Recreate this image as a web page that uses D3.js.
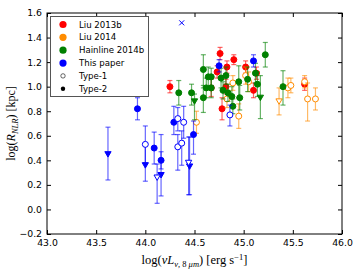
<!DOCTYPE html>
<html>
<head>
<meta charset="utf-8">
<script src="https://cdn.jsdelivr.net/npm/d3@7"></script>
<style>
body { margin: 0; background: #fff; }
text { font-family: "DejaVu Sans", sans-serif; }
.lab { font-family: "Liberation Serif", "DejaVu Serif", serif; }
</style>
</head>
<body>
<div id="chart"></div>
<script>
// rows: [log L8um, log R_NLR, err minus, err plus, type (1/2), marker]
const liu2013b = [
  [44.25, 1.00, 0.05, 0.05, 2, "o"],
  [44.76, 1.27, 0.05, 0.05, 2, "o"],
  [44.73, 1.12, 0.05, 0.05, 2, "o"],
  [44.83, 1.16, 0.05, 0.05, 2, "o"],
  [44.90, 1.22, 0.04, 0.04, 2, "o"],
  [45.02, 1.16, 0.05, 0.05, 2, "o"],
  [45.13, 1.11, 0.05, 0.05, 2, "o"],
  [44.82, 1.00, 0.06, 0.06, 2, "o"],
  [44.67, 0.99, 0.07, 0.07, 2, "o"],
  [44.78, 0.82, 0.09, 0.09, 2, "o"],
  [45.10, 0.97, 0.06, 0.06, 2, "o"],
  [45.62, 1.02, 0.05, 0.05, 2, "o"]
];
const liu2014 = [
  [44.52, 0.71, 0.09, 0.09, 1, "o"],
  [44.95, 0.76, 0.10, 0.10, 1, "o"],
  [44.83, 0.90, 0.07, 0.07, 1, "o"],
  [44.89, 1.03, 0.06, 0.06, 1, "o"],
  [45.02, 1.09, 0.07, 0.07, 1, "o"],
  [45.05, 1.04, 0.08, 0.08, 1, "o"],
  [45.36, 0.89, 0.12, 0.10, 1, "v"],
  [45.45, 0.99, 0.08, 0.08, 1, "o"],
  [45.48, 1.01, 0.06, 0.06, 1, "o"],
  [45.62, 1.04, 0.05, 0.05, 1, "o"],
  [45.65, 0.90, 0.18, 0.13, 1, "o"],
  [45.73, 0.90, 0.09, 0.09, 1, "o"]
];
const hainline2014b = [
  [44.34, 0.95, 0.10, 0.10, 2, "o"],
  [44.47, 0.95, 0.10, 0.07, 2, "o"],
  [44.50, 0.89, 0.16, 0.05, 2, "v"],
  [44.59, 1.14, 0.15, 0.12, 2, "o"],
  [44.59, 0.91, 0.12, 0.10, 2, "o"],
  [44.62, 0.99, 0.08, 0.08, 2, "o"],
  [44.67, 0.99, 0.08, 0.08, 2, "o"],
  [44.64, 1.08, 0.08, 0.08, 2, "o"],
  [44.67, 1.08, 0.07, 0.07, 2, "o"],
  [44.77, 1.07, 0.08, 0.08, 2, "o"],
  [44.82, 1.09, 0.07, 0.07, 2, "o"],
  [44.79, 0.97, 0.07, 0.07, 2, "o"],
  [44.84, 0.95, 0.07, 0.07, 2, "o"],
  [44.88, 0.92, 0.08, 0.08, 2, "o"],
  [44.89, 0.84, 0.06, 0.06, 2, "o"],
  [44.96, 0.91, 0.10, 0.10, 2, "o"],
  [44.95, 1.04, 0.13, 0.13, 2, "o"],
  [45.04, 1.06, 0.10, 0.10, 2, "o"],
  [45.12, 1.11, 0.08, 0.08, 2, "o"],
  [45.14, 1.02, 0.10, 0.10, 2, "o"],
  [45.17, 0.92, 0.18, 0.17, 2, "v"],
  [45.22, 1.26, 0.10, 0.10, 2, "o"],
  [45.40, 1.00, 0.15, 0.13, 2, "o"]
];
const thisPaper = [
  [43.92, 0.82, 0.09, 0.09, 2, "o"],
  [44.09, 0.50, 0.13, 0.13, 2, "o"],
  [44.16, 0.40, 0.07, 0.07, 2, "o"],
  [44.29, 0.71, 0.10, 0.13, 2, "o"],
  [44.49, 0.61, 0.16, 0.11, 2, "o"],
  [44.75, 1.17, 0.05, 0.05, 2, "o"],
  [45.10, 1.21, 0.05, 0.05, 2, "o"],
  [43.62, 0.46, 0.22, 0.21, 2, "v"],
  [44.00, 0.37, 0.14, 0.16, 2, "v"],
  [44.16, 0.29, 0.18, 0.32, 2, "v"],
  [44.45, 0.36, 0.24, 0.23, 2, "v"],
  [44.00, 0.53, 0.15, 0.15, 1, "o"],
  [44.33, 0.74, 0.10, 0.09, 1, "o"],
  [44.39, 0.71, 0.13, 0.13, 1, "o"],
  [44.33, 0.51, 0.19, 0.10, 1, "o"],
  [44.37, 0.54, 0.18, 0.10, 1, "o"],
  [44.86, 0.77, 0.09, 0.08, 1, "o"],
  [44.12, 0.27, 0.22, 0.10, 1, "v"],
  [44.44, 0.39, 0.27, 0.20, 1, "v"],
  [44.37, 1.52, 0, 0, 2, "x"]
];

const seriesNames = ["Liu 2013b", "Liu 2014", "Hainline 2014b", "This paper"];
const seriesColors = ["#ff0000", "#ff8c00", "#008000", "#0000ff"];
const seriesData = [liu2013b, liu2014, hainline2014b, thisPaper];
const xTicks = [43.0, 43.5, 44.0, 44.5, 45.0, 45.5, 46.0];
const yTicks = [-0.2, 0.0, 0.2, 0.4, 0.6, 0.8, 1.0, 1.2, 1.4, 1.6];

const W = 360, H = 270;
const m = {left: 47, top: 13, right: 18, bottom: 36};

const svg = d3.select("#chart").append("svg")
  .attr("width", W).attr("height", H);

const x = d3.scaleLinear().domain([43, 46]).range([m.left, W - m.right]);
const y = d3.scaleLinear().domain([-0.2, 1.6]).range([H - m.bottom, m.top]);

// axes, ticks inside on all four sides
const tl = 4;
svg.append("g").attr("transform", "translate(0," + (H - m.bottom) + ")")
  .call(d3.axisBottom(x).tickValues(xTicks).tickFormat(d3.format(".1f")).tickSizeInner(-tl).tickSizeOuter(0).tickPadding(5));
svg.append("g").attr("transform", "translate(0," + m.top + ")")
  .call(d3.axisTop(x).tickValues(xTicks).tickFormat("").tickSizeInner(-tl).tickSizeOuter(0));
svg.append("g").attr("transform", "translate(" + m.left + ",0)")
  .call(d3.axisLeft(y).tickValues(yTicks).tickFormat(d => d3.format(".1f")(d).replace("-", "\u2212")).tickSizeInner(-tl).tickSizeOuter(0).tickPadding(5));
svg.append("g").attr("transform", "translate(" + (W - m.right) + ",0)")
  .call(d3.axisRight(y).tickValues(yTicks).tickFormat("").tickSizeInner(-tl).tickSizeOuter(0));

svg.selectAll(".domain").remove();
svg.selectAll(".tick text").attr("font-size", 9.3).attr("fill", "#000");
svg.selectAll(".tick line").attr("stroke", "#000");

svg.append("rect")
  .attr("x", m.left).attr("y", m.top)
  .attr("width", W - m.left - m.right).attr("height", H - m.top - m.bottom)
  .attr("fill", "none").attr("stroke", "#000").attr("stroke-width", 1);

// points
const tri = d3.symbol().type(d3.symbolTriangle).size(17);
const plot = svg.append("g");
seriesData.forEach((rows, si) => {
  const c = seriesColors[si];
  const g = plot.append("g");
  rows.forEach(r => {
    const px = x(r[0]), py = y(r[1]);
    if (r[2] + r[3] > 0) {
      const y0 = y(r[1] - r[2]), y1 = y(r[1] + r[3]);
      const eb = g.append("g").attr("stroke", c).attr("stroke-opacity", 0.6).attr("stroke-width", 1.2);
      eb.append("line").attr("x1", px).attr("x2", px).attr("y1", y0).attr("y2", y1);
      eb.append("line").attr("x1", px - 2.5).attr("x2", px + 2.5).attr("y1", y0).attr("y2", y0);
      eb.append("line").attr("x1", px - 2.5).attr("x2", px + 2.5).attr("y1", y1).attr("y2", y1);
    }
    const fill = r[4] == 1 ? "#fff" : c;
    if (r[5] == "o") {
      g.append("circle").attr("cx", px).attr("cy", py).attr("r", 3)
        .attr("fill", fill).attr("stroke", c).attr("stroke-width", 1);
    } else if (r[5] == "v") {
      g.append("path").attr("d", tri)
        .attr("transform", "translate(" + px + "," + (py + 0.5) + ") rotate(180)")
        .attr("fill", fill).attr("stroke", c).attr("stroke-width", 1);
    } else {
      g.append("path").attr("d", "M-2.5,-2.5L2.5,2.5M-2.5,2.5L2.5,-2.5")
        .attr("transform", "translate(" + px + "," + py + ")")
        .attr("fill", "none").attr("stroke", c).attr("stroke-width", 1);
    }
  });
});

// legend
const leg = svg.append("g");
leg.append("rect").attr("x", 50.5).attr("y", 16.5).attr("width", 98).attr("height", 80)
  .attr("fill", "#fff").attr("stroke", "#555").attr("stroke-width", 1);
const legItems = seriesNames.map((n, i) => ({name: n, color: seriesColors[i], fill: seriesColors[i], r: 3.6}))
  .concat([{name: "Type-1", color: "#000", fill: "#fff", r: 2.2}, {name: "Type-2", color: "#000", fill: "#000", r: 2.2}]);
legItems.forEach((d, i) => {
  const ly = 24.5 + i * 12.85;
  leg.append("circle").attr("cx", 63).attr("cy", ly).attr("r", d.r)
    .attr("fill", d.fill).attr("stroke", d.color).attr("stroke-width", d.fill == "#fff" ? 0.6 : 0);
  leg.append("text").attr("x", 79).attr("y", ly + 3).attr("font-size", 8.6).text(d.name);
});

// axis labels
const xl = svg.append("text").attr("class", "lab").attr("x", (m.left + W - m.right) / 2).attr("y", 264)
  .attr("text-anchor", "middle").attr("font-size", 12.5);
xl.append("tspan").text("log(");
xl.append("tspan").attr("font-style", "italic").text("\u03bdL");
xl.append("tspan").attr("font-style", "italic").attr("font-size", 8.5).attr("dy", 2.5).text("\u03bd,");
xl.append("tspan").attr("font-size", 8.5).text(" 8 ");
xl.append("tspan").attr("font-style", "italic").attr("font-size", 8.5).text("\u03bcm");
xl.append("tspan").attr("dy", -2.5).text(") [erg s");
xl.append("tspan").attr("font-size", 8.5).attr("dy", -4).text("\u22121");
xl.append("tspan").attr("dy", 4).text("]");

const yl = svg.append("text").attr("class", "lab")
  .attr("transform", "translate(15," + ((m.top + H - m.bottom) / 2) + ") rotate(-90)")
  .attr("text-anchor", "middle").attr("font-size", 12);
yl.append("tspan").text("log(");
yl.append("tspan").attr("font-style", "italic").text("R");
yl.append("tspan").attr("font-style", "italic").attr("font-size", 8.5).attr("dy", 2.5).text("NLR");
yl.append("tspan").attr("dy", -2.5).text(") [kpc]");
</script>
</body>
</html>
